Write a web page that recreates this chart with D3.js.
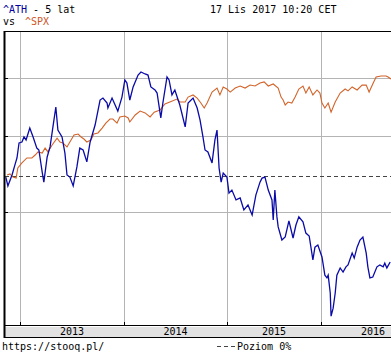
<!DOCTYPE html>
<html>
<head>
<meta charset="utf-8">
<script src="https://cdn.jsdelivr.net/npm/d3@7"></script>
<style>
  body { margin: 0; background: #fff; }
  svg { display: block; font-family: "DejaVu Sans Mono", monospace; font-size: 10px; }
</style>
</head>
<body>
<div id="chart"></div>
<script>
// trading-session index (0 = mid Nov 2012), values as index, start = 100
const athDays = [2, 7, 17, 24, 29, 34, 41, 46, 51, 60, 68, 77, 82, 90, 94, 102, 109, 116, 123, 128,
  138, 145, 150, 157, 165, 174, 181, 189, 198, 206, 218, 230, 237, 247, 249, 259, 273, 283, 290, 295,
  302, 310, 322, 329, 339, 346, 353, 363, 368, 377, 382, 392, 397, 404, 411, 423, 436, 443, 455, 465,
  472, 479, 484, 491, 501, 508, 513, 518, 523, 528, 537, 542, 549, 559, 569, 578, 588, 598, 607, 617,
  622, 629, 637, 646, 649, 653, 658, 661, 670, 678, 687, 697, 704, 711, 721, 728, 736, 745, 750, 757,
  767, 774, 779, 782, 787, 789, 794, 799, 803, 811, 818, 825, 830, 840, 845, 852, 859, 866, 874, 878,
  883, 890, 900, 907, 915, 919, 924, 932];
const athVals = [99.6, 96.3, 100.4, 104.3, 107.1, 113.4, 113.8, 116.0, 114.7, 120.0, 116.0, 111.2, 110.4, 101.5, 97.7, 107.5, 111.7, 120.5, 130.0, 119.1,
  116.0, 109.1, 100.4, 99.6, 96.3, 103.5, 111.2, 110.4, 105.5, 113.8, 121.4, 133.5, 134.5, 132.0, 129.5, 134.5, 128.0, 135.0, 144.1, 142.4,
  133.5, 140.3, 146.8, 148.5, 147.4, 146.8, 140.3, 138.7, 137.1, 124.7, 132.0, 145.7, 144.1, 136.1, 138.7, 131.0, 120.5, 132.0, 134.5, 129.5,
  123.7, 116.0, 110.4, 109.6, 105.1, 114.7, 119.1, 103.1, 97.7, 101.1, 99.6, 93.7, 94.8, 91.3, 92.0, 87.9, 89.6, 86.2, 93.0, 97.7,
  99.2, 99.6, 94.8, 91.3, 84.6, 94.8, 85.6, 82.4, 78.4, 79.3, 84.3, 79.0, 83.0, 85.6, 84.0, 80.5, 79.6, 72.7, 76.3, 76.9,
  73.5, 68.6, 67.9, 68.6, 64.1, 58.7, 60.5, 64.1, 68.6, 70.5, 69.4, 70.8, 71.3, 74.6, 73.2, 76.3, 78.4, 79.3, 74.6, 70.8,
  67.9, 68.1, 70.8, 71.3, 70.8, 71.8, 70.5, 72.1];

const spxDays = [5, 12, 19, 27, 31, 41, 53, 65, 73, 80, 90, 97, 104, 114, 126, 133, 140, 150, 157, 167,
  177, 184, 191, 198, 208, 215, 225, 235, 244, 254, 261, 271, 278, 290, 298, 302, 315, 327, 339, 351,
  361, 375, 387, 399, 416, 423, 436, 443, 455, 465, 474, 482, 489, 501, 513, 520, 528, 537, 545, 557,
  569, 581, 593, 605, 617, 627, 637, 649, 661, 668, 673, 678, 685, 694, 702, 711, 721, 728, 736, 745,
  755, 762, 767, 774, 782, 789, 799, 811, 823, 830, 840, 852, 864, 874, 881, 891, 898, 910, 922, 927, 934];
const spxVals = [100.4, 100.8, 99.6, 99.2, 103.1, 105.1, 107.1, 107.1, 108.3, 109.6, 109.1, 111.2, 109.6, 112.5, 115.5, 113.8, 113.4, 111.7, 113.8, 116.9,
  117.3, 116.0, 115.1, 113.8, 114.7, 117.3, 117.8, 120.0, 122.3, 124.2, 124.2, 122.3, 125.2, 125.6, 124.7, 122.8, 126.1, 128.0, 127.1, 125.2,
  127.5, 128.5, 131.5, 132.5, 134.0, 132.5, 132.5, 135.0, 136.1, 134.5, 132.0, 129.5, 132.0, 137.6, 139.7, 136.1, 140.3, 139.2, 137.6, 139.7,
  140.8, 139.7, 141.3, 140.8, 142.4, 143.0, 140.8, 141.9, 139.7, 135.0, 133.5, 131.0, 132.5, 132.0, 135.0, 139.2, 140.8, 137.1, 140.3, 136.1,
  138.7, 137.1, 132.0, 129.5, 132.0, 127.5, 132.5, 137.1, 139.2, 138.2, 140.3, 138.7, 141.3, 141.3, 137.6, 142.4, 145.7, 146.3, 146.3, 145.7, 144.6];

const yearStarts = [36, 288, 537, 765, 1016];
const yearLabels = ["2013", "2014", "2015", "2016"];
const gridLevels = [87.2, 116.3, 145.3];

const width = 391, height = 354;
const plotTop = 32, plotBottom = 325;

const svg = d3.select("#chart")
  .append("svg")
  .attr("width", width)
  .attr("height", height);

const x = d3.scaleLinear().domain([0, 934]).range([5, 391]);
const y = d3.scaleLog().domain([56.75, 172.9]).range([plotBottom, plotTop]);

// grid
svg.append("g")
  .selectAll("line")
  .data(yearStarts.slice(0, 4))
  .join("line")
  .attr("x1", d => Math.round(x(d)) + 0.5)
  .attr("x2", d => Math.round(x(d)) + 0.5)
  .attr("y1", plotTop)
  .attr("y2", plotBottom)
  .attr("stroke", "#b4b4b4");

svg.append("g")
  .selectAll("line")
  .data(gridLevels)
  .join("line")
  .attr("x1", 5)
  .attr("x2", width)
  .attr("y1", d => Math.round(y(d)) + 0.5)
  .attr("y2", d => Math.round(y(d)) + 0.5)
  .attr("stroke", "#b4b4b4");

// poziom 0%
svg.append("line")
  .attr("x1", 5)
  .attr("x2", width)
  .attr("y1", Math.round(y(100)) + 0.5)
  .attr("y2", Math.round(y(100)) + 0.5)
  .attr("stroke", "#444")
  .attr("stroke-dasharray", "4,3");

const line = d3.line()
  .x(d => x(d[0]))
  .y(d => y(d[1]));

svg.append("path")
  .datum(d3.zip(spxDays, spxVals))
  .attr("fill", "none")
  .attr("stroke", "#d2642a")
  .attr("stroke-width", 1.1)
  .attr("d", line);

svg.append("path")
  .datum(d3.zip(athDays, athVals))
  .attr("fill", "none")
  .attr("stroke", "#0a0aa8")
  .attr("stroke-width", 1.3)
  .attr("d", line);

// frame
svg.append("rect")
  .attr("x", 5).attr("y", plotBottom + 2)
  .attr("width", width).attr("height", 10)
  .attr("fill", "#e2e2e2");

svg.append("line").attr("x1", 4).attr("x2", width).attr("y1", plotTop - 0.5).attr("y2", plotTop - 0.5).attr("stroke", "#000");
svg.append("line").attr("x1", 4).attr("x2", width).attr("y1", plotBottom + 0.5).attr("y2", plotBottom + 0.5).attr("stroke", "#000");
svg.append("line").attr("x1", 4).attr("x2", width).attr("y1", 337.5).attr("y2", 337.5).attr("stroke", "#000");
svg.append("line").attr("x1", 4.5).attr("x2", 4.5).attr("y1", plotTop - 1).attr("y2", 338).attr("stroke", "#000").attr("stroke-width", 2);

// ticks
svg.append("g")
  .selectAll("line")
  .data(gridLevels)
  .join("line")
  .attr("x1", 4).attr("x2", 8)
  .attr("y1", d => Math.round(y(d)) + 0.5)
  .attr("y2", d => Math.round(y(d)) + 0.5)
  .attr("stroke", "#000");

svg.append("g")
  .selectAll("line")
  .data(yearStarts.slice(0, 4))
  .join("line")
  .attr("x1", d => Math.round(x(d)) + 0.5)
  .attr("x2", d => Math.round(x(d)) + 0.5)
  .attr("y1", plotBottom - 3)
  .attr("y2", plotBottom)
  .attr("stroke", "#000");

// year labels centred on each year
svg.append("g")
  .selectAll("text")
  .data(yearLabels)
  .join("text")
  .attr("x", (d, i) => x((yearStarts[i] + yearStarts[i + 1]) / 2))
  .attr("y", 335)
  .attr("text-anchor", "middle")
  .attr("fill", "#000")
  .text(d => d);

// header
const h1 = svg.append("text").attr("x", 3).attr("y", 13);
h1.append("tspan").attr("fill", "#0000a0").text("^ATH");
h1.append("tspan").attr("fill", "#000").text(" - 5 lat");

svg.append("text").attr("x", 210).attr("y", 13).attr("fill", "#000").text("17 Lis 2017 10:20 CET");

svg.append("text").attr("x", 3).attr("y", 25).attr("fill", "#000").text("vs");
svg.append("text").attr("x", 25).attr("y", 25).attr("fill", "#d0541e").text("^SPX");

// footer
svg.append("text").attr("x", 2).attr("y", 350).attr("fill", "#000").text("https://stooq.pl/");
svg.append("line")
  .attr("x1", 217).attr("x2", 235)
  .attr("y1", 346.5).attr("y2", 346.5)
  .attr("stroke", "#444")
  .attr("stroke-dasharray", "4,3");
svg.append("text").attr("x", 237).attr("y", 350).attr("fill", "#000").text("Poziom 0%");
</script>
</body>
</html>
